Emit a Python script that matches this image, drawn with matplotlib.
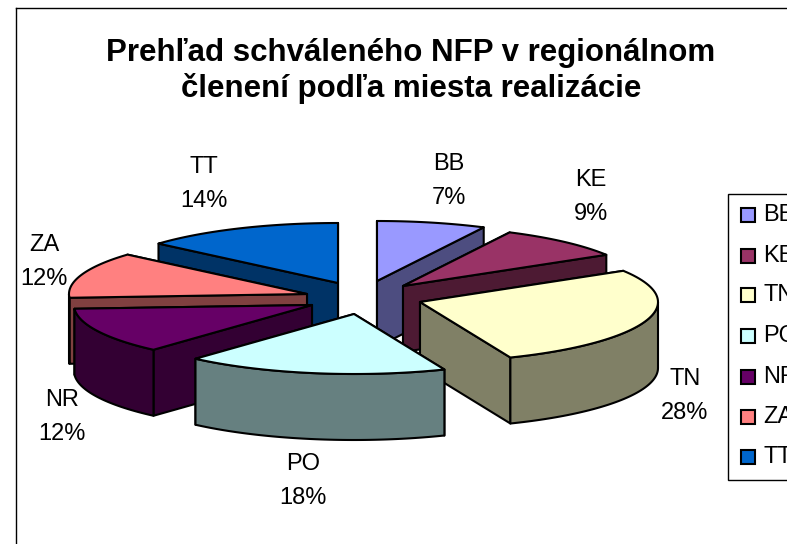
import numpy as np
import matplotlib
matplotlib.use("Agg")
import matplotlib.pyplot as plt
from matplotlib.patches import Polygon, Rectangle

plt.rcParams['font.family'] = ['Liberation Sans', 'DejaVu Sans']

# data
regions = ['BB', 'KE', 'TN', 'PO', 'NR', 'ZA', 'TT']
shares = [7.4, 8.9, 27.5, 17.8, 12.4, 12.4, 13.6]
title = 'Prehľad schváleného NFP v regionálnom\nčlenení podľa miesta realizácie'

# look of each slice
top_colors = ['#9999FF', '#993366', '#FFFFCC', '#CCFFFF', '#660066', '#FF8080', '#0066CC']
side_colors = ['#4D4D80', '#4D1A33', '#808066', '#668080', '#330033', '#804040', '#003366']
apex = [(377, 281), (403, 286), (420, 302), (354, 314), (312, 305), (307, 294), (338, 283)]
label_pos = [(449, 181), (591, 197), (685, 396), (303, 481), (62, 417), (44, 262), (204, 184)]
legend_y = [215, 256, 295, 336, 377, 417, 457]
draw_order = [0, 1, 6, 5, 4, 2, 3]

RX, RY, DEPTH = 238, 60, 66
LW = 1.5

fig = plt.figure(figsize=(7.87, 5.44), dpi=100)
ax = fig.add_axes([0, 0, 1, 1])
ax.set_xlim(0, 787)
ax.set_ylim(544, 0)
ax.axis('off')


def rim(i, deg):
	t = np.radians(deg)
	return apex[i][0] + RX * np.sin(t), apex[i][1] - RY * np.cos(t)


def poly(pts, color, z):
	ax.add_patch(Polygon(pts, closed=True, facecolor=color, edgecolor='black',
		linewidth=LW, joinstyle='round', zorder=z))


def face(i, deg, z):
	x, y = rim(i, deg)
	ax_, ay = apex[i]
	poly([(ax_, ay), (x, y), (x, y + DEPTH), (ax_, ay + DEPTH)], side_colors[i], z)


edges = np.cumsum([0] + shares) / sum(shares) * 360
z = 2
for i in draw_order:
	a0, a1 = edges[i], edges[i + 1]
	# the far cut face goes first, the one we can see over it
	if (a0 + a1) / 2 < 180:
		face(i, a0, z)
		face(i, a1, z + 1)
	else:
		face(i, a1, z)
		face(i, a0, z + 1)
	lo, hi = max(a0, 90), min(a1, 270)
	if hi > lo:
		arc = [rim(i, d) for d in np.linspace(lo, hi, 60)]
		poly(arc + [(x, y + DEPTH) for x, y in arc[::-1]], side_colors[i], z + 2)
	top = [apex[i]] + [rim(i, d) for d in np.linspace(a0, a1, 60)]
	poly(top, top_colors[i], z + 3)
	z += 4

# percent labels
for i, r in enumerate(regions):
	ax.text(label_pos[i][0], label_pos[i][1], '%s\n%d%%' % (r, round(shares[i])),
		ha='center', va='center', fontsize=17, linespacing=1.66, color='black', zorder=60)

ax.text(411, 71, title, ha='center', va='center', fontsize=22.5, fontweight='bold',
	linespacing=1.25, zorder=60)

# chart frame
ax.plot([16, 16], [544, 8], color='black', lw=1, zorder=1)
ax.plot([16, 787], [8, 8], color='black', lw=1, zorder=1)

# legend, runs off the right edge like the original
ax.add_patch(Rectangle((728, 194), 80, 286, facecolor='white', edgecolor='black',
	linewidth=1, zorder=50, clip_on=True))
for i, r in enumerate(regions):
	ax.add_patch(Rectangle((741, legend_y[i] - 7), 14, 14, facecolor=top_colors[i],
		edgecolor='black', linewidth=1.5, zorder=51))
	ax.text(763, legend_y[i], r, ha='left', va='center', fontsize=17, zorder=52)

fig.savefig('out.png', dpi=100)
